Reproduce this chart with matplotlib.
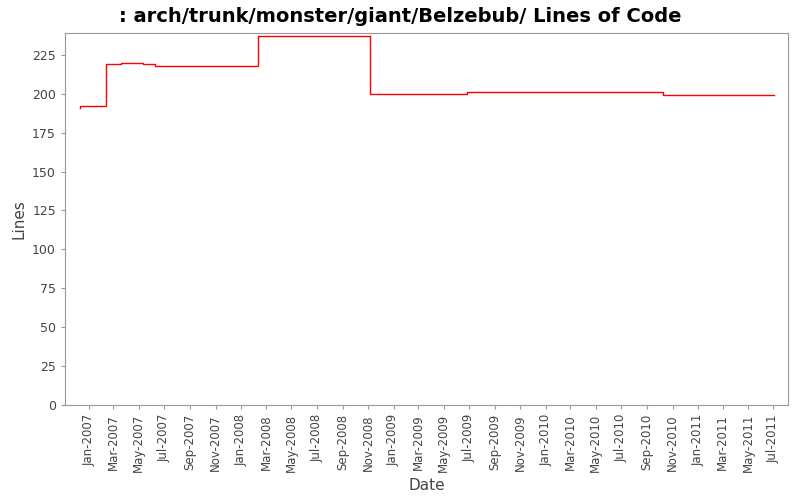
import matplotlib
matplotlib.use("Agg")
import matplotlib.pyplot as plt
import matplotlib.dates as mdates
import numpy as np
from datetime import datetime

# step changes in line count
dates = ["2006-12-10", "2006-12-12", "2007-02-12", "2007-03-20", "2007-05-10",
         "2007-06-10", "2008-02-12", "2008-11-05", "2009-06-26", "2010-10-10",
         "2011-07-03"]
lines = [191, 192, 219, 220, 219, 218, 237, 200, 201, 199, 199]

x = [datetime.strptime(d, "%Y-%m-%d") for d in dates]

fig = plt.figure(figsize=(8, 5), dpi=100)
ax = fig.add_axes([65/800, 95/500, 723/800, 372/500])
ax.step(x, lines, where="post", color="red", lw=1)

ax.set_xlim(datetime(2006, 11, 5), datetime(2011, 8, 5))
ax.set_ylim(0, 239)
ax.set_yticks(np.arange(0, 226, 25))
ax.xaxis.set_major_locator(mdates.MonthLocator(bymonth=[1, 3, 5, 7, 9, 11]))
ax.xaxis.set_major_formatter(mdates.DateFormatter("%b-%Y"))
plt.setp(ax.get_xticklabels(), rotation=90, fontsize=8.5, color="#444444")
plt.setp(ax.get_yticklabels(), fontsize=9, color="#444444")
for s in ax.spines.values():
    s.set_color("#999999")
ax.tick_params(color="#999999", length=3)

ax.set_xlabel("Date", fontsize=11, color="#444444")
ax.set_ylabel("Lines", fontsize=11, color="#444444")
fig.suptitle(": arch/trunk/monster/giant/Belzebub/ Lines of Code",
             fontsize=14, fontweight="bold", y=0.985)

plt.savefig("out.png")
